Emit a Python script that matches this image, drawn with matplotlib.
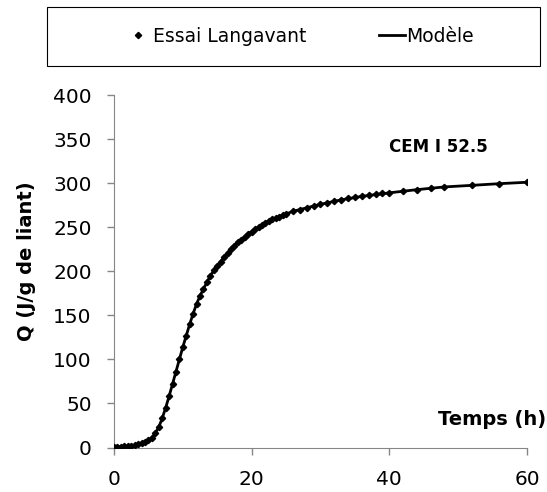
import matplotlib
matplotlib.use("Agg")
import matplotlib.pyplot as plt
from matplotlib.patches import Rectangle

t_essai = [0, 0.5, 1, 1.5, 2, 2.5, 3, 3.5, 4, 4.5, 5, 5.5, 6, 6.5, 7, 7.5, 8, 8.5, 9, 9.5,
           10, 10.5, 11, 11.5, 12, 12.5, 13, 13.5, 14, 14.5, 15, 15.5, 16, 16.5, 17, 17.5,
           18, 18.5, 19, 19.5, 20, 20.5, 21, 21.5, 22, 22.5, 23, 23.5, 24, 24.5, 25,
           26, 27, 28, 29, 30, 31, 32, 33, 34, 35, 36, 37, 38, 39, 40,
           42, 44, 46, 48, 52, 56, 60]
q_essai = [0.5, 0.7, 1.0, 1.2, 1.5, 2.0, 2.6, 3.5, 4.6, 6.0, 8.0, 11, 16, 23, 33, 45, 58, 72, 86, 100,
           114, 127, 140, 152, 163, 172, 180, 188, 195, 201, 206, 211, 216, 220.5, 225, 229,
           233, 236, 239, 242, 245, 247.5, 250, 252.5, 255, 257, 259, 260.5, 262, 263.5, 265,
           268, 270, 272, 274, 276, 278, 280, 281, 283, 284, 285, 286.5, 287.5, 288.5, 289,
           291, 292.6, 294, 295.7, 297.5, 299.4, 301]

# model curve
t_model = [0, 1, 2, 3, 4, 4.5, 5, 5.5, 6, 6.5, 7, 7.5, 8, 8.5, 9, 9.5, 10, 10.5, 11, 11.5,
           12, 12.5, 13, 14, 15, 16, 17, 18, 20, 22, 24, 26, 28, 30, 33, 36, 40, 44, 48,
           52, 56, 60]
q_model = [0.5, 1.0, 1.5, 2.6, 4.6, 6.0, 8.0, 11, 16, 23, 33, 45, 58, 72, 86, 100, 114, 127, 140, 152,
           163, 172, 180, 195, 206, 216, 225, 233, 245, 255, 262, 268, 272, 276, 281, 285, 289, 292.6, 295.7,
           297.5, 299.4, 301]

x_ticks = [0, 20, 40, 60]
y_ticks = [0, 50, 100, 150, 200, 250, 300, 350, 400]

plt.rcParams['font.family'] = ['DejaVu Sans']

fig = plt.figure(figsize=(5.47, 4.92), dpi=100)
ax = fig.add_axes([0.2084, 0.0904, 0.755, 0.7165])

ax.plot(t_essai, q_essai, linestyle="none", marker="D", markersize=3.2, color="black",
        label="Essai Langavant", zorder=3)
ax.plot(t_model, q_model, color="black", lw=2, label="Modèle", zorder=2)

ax.set_xlim(0, 60)
ax.set_ylim(0, 400)
ax.set_xticks(x_ticks)
ax.set_yticks(y_ticks)
for s in ["top", "right"]:
    ax.spines[s].set_visible(False)
for s in ["left", "bottom"]:
    ax.spines[s].set_color("#868686")
ax.tick_params(axis="both", colors="#868686", labelcolor="black", labelsize=14.5,
               direction="out", length=5, width=1)
ax.tick_params(axis="y", pad=11)
ax.tick_params(axis="x", pad=11)

ax.set_ylabel("Q (J/g de liant)", fontsize=14, fontweight="bold")
ax.yaxis.set_label_coords(-0.19, 0.529)

fig.text(0.998, 0.148, "Temps (h)", fontsize=14, fontweight="bold", ha="right", va="center")
fig.text(0.801, 0.701, "CEM I 52.5", fontsize=12, fontweight="bold", ha="center", va="center")

# legend box
fig.patches.append(Rectangle((0.0859, 0.8659), 0.901, 0.12, transform=fig.transFigure,
                             fill=False, edgecolor="black", lw=0.8))
fig.legend(loc="center", bbox_to_anchor=(300 / 547, 1 - 36 / 492), ncol=2, frameon=False,
           fontsize=13.5, handlelength=1.35, handletextpad=0.1, columnspacing=3.9)

plt.savefig("out.png", dpi=100)
